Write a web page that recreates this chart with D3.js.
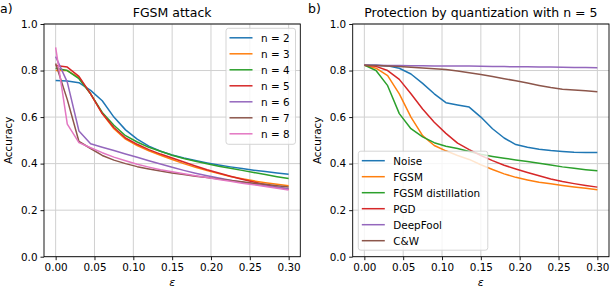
<!DOCTYPE html>
<html><head><meta charset="utf-8">
<script src="https://cdn.jsdelivr.net/npm/d3@7"></script>
<style>
html,body{margin:0;padding:0;background:#fff;}
svg text{font-family:"DejaVu Sans",sans-serif;fill:#000;}
</style></head>
<body><svg id="c" width="610" height="288"></svg>
<script>
const eps = [0,0.015,0.03,0.045,0.06,0.075,0.09,0.105,0.12,0.135,0.15,0.165,0.18,0.195,0.21,0.225,0.24,0.255,0.27,0.285,0.30];
const xTicks = [0,0.05,0.10,0.15,0.20,0.25,0.30];
const yTicks = [0,0.2,0.4,0.6,0.8,1.0];
const colors = ["#1f77b4","#ff7f0e","#2ca02c","#d62728","#9467bd","#8c564b","#e377c2"];

// Panel a) FGSM attack
const labelsA = ["n = 2","n = 3","n = 4","n = 5","n = 6","n = 7","n = 8"];
const n2 = [0.757,0.755,0.748,0.715,0.67,0.60,0.545,0.505,0.475,0.453,0.437,0.424,0.413,0.403,0.394,0.386,0.379,0.372,0.366,0.36,0.354];
const n3 = [0.80,0.80,0.77,0.70,0.615,0.55,0.505,0.478,0.455,0.436,0.418,0.40,0.384,0.37,0.357,0.345,0.335,0.326,0.318,0.311,0.305];
const n4 = [0.81,0.80,0.765,0.70,0.62,0.565,0.52,0.493,0.47,0.453,0.436,0.422,0.41,0.399,0.389,0.38,0.371,0.362,0.353,0.344,0.336];
const n5 = [0.822,0.815,0.775,0.70,0.615,0.555,0.51,0.483,0.46,0.441,0.424,0.407,0.39,0.374,0.36,0.346,0.333,0.321,0.309,0.299,0.29];
const n6 = [0.86,0.75,0.54,0.485,0.47,0.456,0.441,0.427,0.412,0.398,0.384,0.371,0.359,0.348,0.338,0.329,0.32,0.312,0.305,0.298,0.292];
const n7 = [0.83,0.675,0.495,0.465,0.435,0.415,0.40,0.387,0.377,0.368,0.36,0.353,0.346,0.34,0.334,0.328,0.322,0.316,0.311,0.305,0.30];
const n8 = [0.90,0.57,0.49,0.468,0.447,0.428,0.412,0.397,0.385,0.374,0.365,0.356,0.348,0.34,0.332,0.324,0.316,0.309,0.302,0.294,0.287];
const seriesA = [n2,n3,n4,n5,n6,n7,n8];

// Panel b) Protection by quantization with n = 5
const labelsB = ["Noise","FGSM","FGSM distillation","PGD","DeepFool","C&W"];
const noise = [0.823,0.823,0.82,0.81,0.785,0.745,0.70,0.662,0.652,0.643,0.60,0.55,0.51,0.482,0.47,0.462,0.456,0.452,0.449,0.448,0.448];
const fgsm = [0.823,0.81,0.778,0.70,0.60,0.52,0.478,0.455,0.435,0.418,0.395,0.375,0.356,0.341,0.33,0.32,0.313,0.306,0.30,0.294,0.288];
const distill = [0.823,0.80,0.735,0.615,0.55,0.515,0.49,0.475,0.465,0.452,0.44,0.431,0.423,0.416,0.409,0.402,0.394,0.386,0.38,0.374,0.369];
const pgd = [0.823,0.818,0.80,0.762,0.70,0.635,0.578,0.53,0.488,0.46,0.435,0.413,0.393,0.377,0.362,0.348,0.334,0.323,0.314,0.306,0.299];
const deepfool = [0.823,0.823,0.822,0.822,0.821,0.821,0.820,0.820,0.819,0.819,0.818,0.817,0.817,0.816,0.816,0.815,0.815,0.814,0.813,0.813,0.812];
const cw = [0.823,0.822,0.82,0.817,0.814,0.811,0.808,0.804,0.798,0.791,0.783,0.774,0.765,0.756,0.746,0.736,0.727,0.72,0.716,0.713,0.709];
const seriesB = [noise,fgsm,distill,pgd,deepfool,cw];

const svg = d3.select("#c");
const yTop = 24, yBot = 256.7;

function panel(x0, x1, title, tag, series, labels, legend) {
  const g = svg.append("g");
  const x = d3.scaleLinear().domain([-0.015,0.315]).range([x0,x1]);
  const y = d3.scaleLinear().domain([0,1]).range([yBot,yTop]);
  // grid
  g.append("g").selectAll("line").data(xTicks).join("line")
    .attr("x1",d=>x(d)).attr("x2",d=>x(d)).attr("y1",yTop).attr("y2",yBot)
    .attr("stroke","#d0d0d0").attr("stroke-width",1);
  g.append("g").selectAll("line").data(yTicks).join("line")
    .attr("x1",x0).attr("x2",x1).attr("y1",d=>y(d)).attr("y2",d=>y(d))
    .attr("stroke","#d0d0d0").attr("stroke-width",1);
  // lines
  const line = d3.line().x((d,i)=>x(eps[i])).y(d=>y(d));
  series.forEach((s,i)=>{
    g.append("path").datum(s).attr("d",line).attr("fill","none")
      .attr("stroke",colors[i]).attr("stroke-width",1.5).attr("stroke-linejoin","round");
  });
  // axes
  const xa = g.append("g").attr("transform",`translate(0,${yBot})`)
    .call(d3.axisBottom(x).tickValues(xTicks).tickFormat(d3.format(".2f")).tickSize(3.5).tickPadding(3));
  const ya = g.append("g").attr("transform",`translate(${x0},0)`)
    .call(d3.axisLeft(y).tickValues(yTicks).tickFormat(d3.format(".1f")).tickSize(3.5).tickPadding(3));
  [xa,ya].forEach(a=>{
    a.select(".domain").remove();
    a.selectAll("text").attr("font-size","10.4px").attr("font-family","DejaVu Sans");
    a.selectAll("line").attr("stroke","#000").attr("stroke-width",0.9);
  });
  // frame
  g.append("rect").attr("x",x0).attr("y",yTop).attr("width",x1-x0).attr("height",yBot-yTop)
    .attr("fill","none").attr("stroke","#000").attr("stroke-width",0.9);
  // labels
  g.append("text").attr("x",(x0+x1)/2).attr("y",17).attr("text-anchor","middle")
    .attr("font-size","12.5px").text(title);
  g.append("text").attr("x",(x0+x1)/2).attr("y",286).attr("text-anchor","middle")
    .attr("font-size","11px").attr("font-style","italic").text("ε");
  g.append("text").attr("transform",`translate(${x0-32},${(yTop+yBot)/2}) rotate(-90)`)
    .attr("text-anchor","middle").attr("font-size","10.4px").text("Accuracy");
  g.append("text").attr("x",tag.x).attr("y",13).attr("font-size","12.5px").text(tag.t);
  // legend
  const L = g.append("g");
  L.append("rect").attr("x",legend.x).attr("y",legend.y).attr("width",legend.w)
    .attr("height",legend.h).attr("rx",2.5).attr("fill","#fff").attr("fill-opacity",0.8)
    .attr("stroke","#d0d0d0").attr("stroke-width",0.9);
  labels.forEach((lab,i)=>{
    const cy = legend.y + 9.5 + i*16;
    L.append("line").attr("x1",legend.x+3.5).attr("x2",legend.x+26.5).attr("y1",cy).attr("y2",cy)
      .attr("stroke",colors[i]).attr("stroke-width",1.5);
    L.append("text").attr("x",legend.x+35).attr("y",cy+3.8).attr("font-size","10.4px").text(lab);
  });
}

panel(44, 300.3, "FGSM attack", {x:0,t:"a)"}, seriesA, labelsA, {x:226,y:28.3,w:69.5,h:116});
panel(352.7, 609, "Protection by quantization with n = 5", {x:308,t:"b)"}, seriesB, labelsB, {x:358.3,y:151.2,w:129.5,h:99});
</script></body></html>
